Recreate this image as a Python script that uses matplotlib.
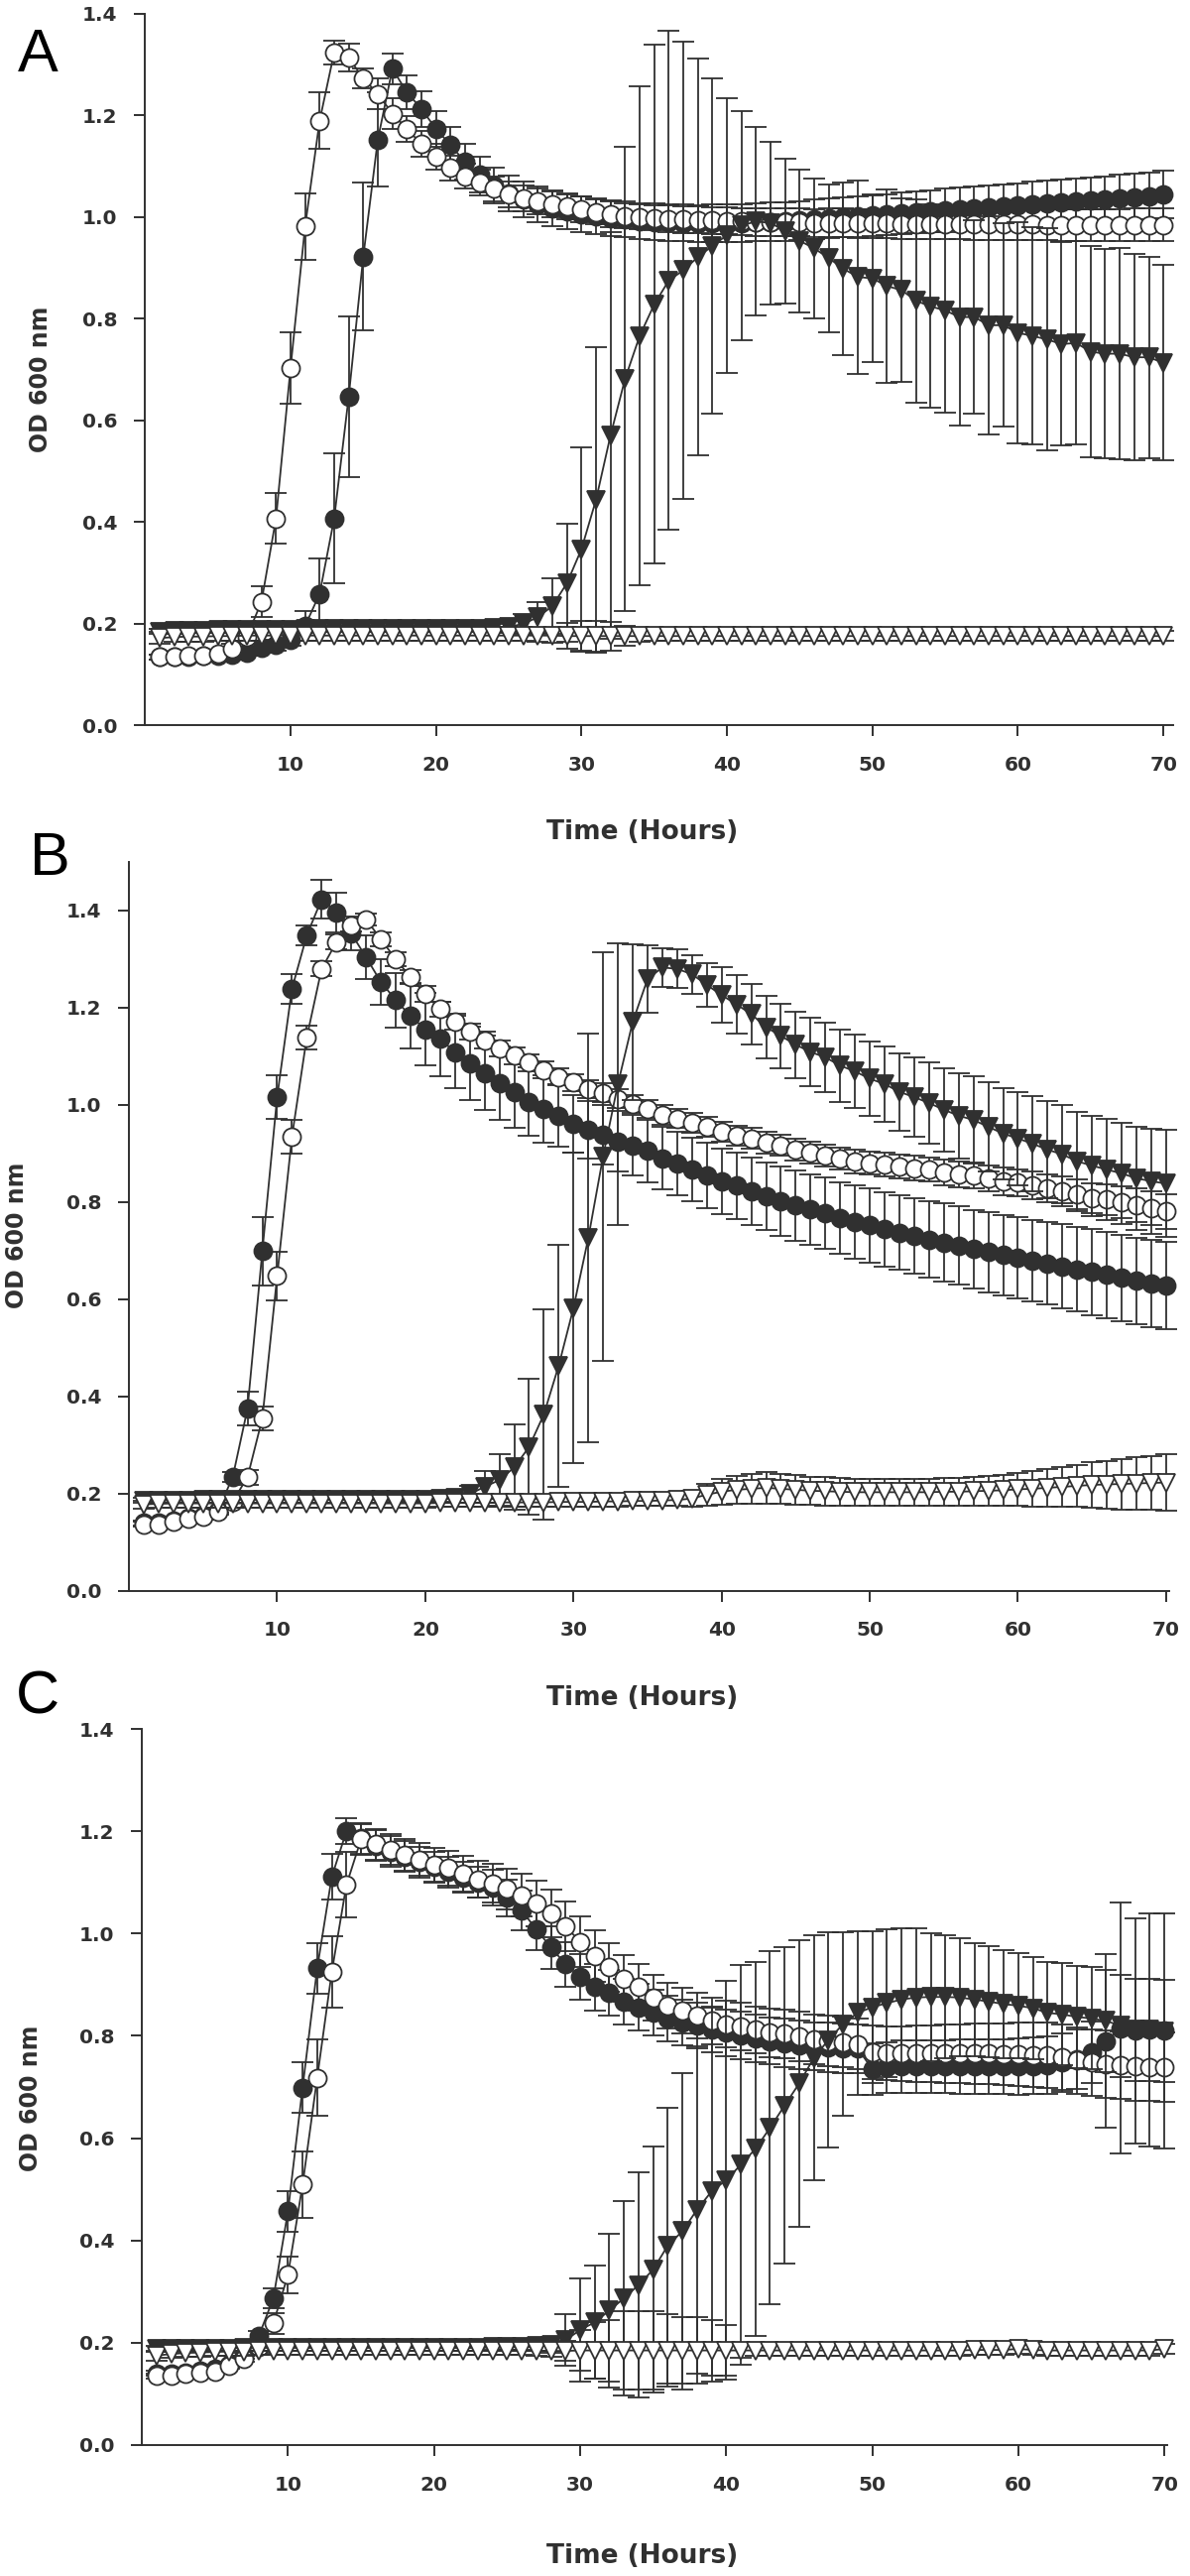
import matplotlib
matplotlib.use("Agg")
import matplotlib.pyplot as plt

hours = list(range(1, 71))

# ---------------- Panel A ----------------
A_filled = [0.135, 0.135, 0.136, 0.137, 0.138, 0.139, 0.143, 0.153, 0.158, 0.169,
            0.196, 0.259, 0.407, 0.647, 0.922, 1.152, 1.291, 1.245, 1.212, 1.173,
            1.141, 1.108, 1.083, 1.062, 1.046, 1.034, 1.025, 1.017, 1.011, 1.006,
            1.002, 0.998, 0.995, 0.992, 0.990, 0.989, 0.988, 0.987, 0.987, 0.987,
            0.988, 0.989, 0.990, 0.991, 0.993, 0.995, 0.997, 0.999, 1.001, 1.003,
            1.005, 1.007, 1.009, 1.011, 1.013, 1.015, 1.017, 1.019, 1.021, 1.023,
            1.025, 1.027, 1.029, 1.031, 1.033, 1.035, 1.037, 1.039, 1.041, 1.044]
A_filled_err = [0.005, 0.005, 0.005, 0.005, 0.005, 0.005, 0.006, 0.008, 0.010, 0.012,
                0.030, 0.070, 0.128, 0.158, 0.145, 0.093, 0.030, 0.034, 0.035, 0.035,
                0.035, 0.035, 0.035, 0.035, 0.035, 0.035, 0.035, 0.035, 0.035, 0.035,
                0.035, 0.035, 0.035, 0.035, 0.036, 0.036, 0.036, 0.036, 0.037, 0.037,
                0.037, 0.037, 0.038, 0.038, 0.038, 0.039, 0.039, 0.039, 0.040, 0.040,
                0.040, 0.041, 0.041, 0.041, 0.042, 0.042, 0.042, 0.043, 0.043, 0.043,
                0.044, 0.044, 0.044, 0.045, 0.045, 0.045, 0.046, 0.046, 0.046, 0.047]
A_open = [0.135, 0.135, 0.137, 0.138, 0.142, 0.152, 0.175, 0.243, 0.407, 0.703,
          0.981, 1.189, 1.323, 1.313, 1.272, 1.242, 1.203, 1.173, 1.143, 1.118,
          1.096, 1.080, 1.067, 1.055, 1.044, 1.036, 1.030, 1.025, 1.020, 1.015,
          1.010, 1.005, 1.002, 1.000, 0.998, 0.996, 0.995, 0.994, 0.993, 0.992,
          0.991, 0.990, 0.990, 0.989, 0.989, 0.988, 0.988, 0.988, 0.987, 0.987,
          0.987, 0.986, 0.986, 0.986, 0.986, 0.985, 0.985, 0.985, 0.985, 0.985,
          0.985, 0.984, 0.984, 0.984, 0.984, 0.984, 0.984, 0.984, 0.984, 0.984]
A_open_err = [0.005, 0.005, 0.005, 0.005, 0.005, 0.008, 0.010, 0.030, 0.050, 0.070,
              0.066, 0.056, 0.023, 0.027, 0.020, 0.030, 0.030, 0.025, 0.025, 0.025,
              0.025, 0.025, 0.025, 0.025, 0.025, 0.025, 0.025, 0.025, 0.025, 0.025,
              0.025, 0.025, 0.025, 0.025, 0.025, 0.026, 0.026, 0.026, 0.026, 0.026,
              0.026, 0.027, 0.027, 0.027, 0.027, 0.027, 0.028, 0.028, 0.028, 0.028,
              0.028, 0.029, 0.029, 0.029, 0.029, 0.029, 0.030, 0.030, 0.030, 0.030,
              0.030, 0.030, 0.031, 0.031, 0.031, 0.031, 0.031, 0.032, 0.032, 0.032]
A_tri = [0.185, 0.186, 0.187, 0.187, 0.188, 0.188, 0.188, 0.189, 0.189, 0.189,
         0.190, 0.190, 0.190, 0.190, 0.190, 0.190, 0.190, 0.190, 0.190, 0.190,
         0.190, 0.190, 0.191, 0.192, 0.194, 0.200, 0.213, 0.235, 0.280, 0.347,
         0.444, 0.571, 0.682, 0.766, 0.828, 0.875, 0.895, 0.921, 0.943, 0.964,
         0.983, 0.991, 0.988, 0.972, 0.953, 0.938, 0.919, 0.898, 0.882, 0.879,
         0.864, 0.856, 0.835, 0.824, 0.816, 0.803, 0.803, 0.787, 0.787, 0.772,
         0.766, 0.759, 0.750, 0.752, 0.735, 0.731, 0.731, 0.724, 0.724, 0.713]
A_tri_err = [0.005, 0.005, 0.005, 0.005, 0.005, 0.005, 0.005, 0.005, 0.005, 0.005,
             0.005, 0.005, 0.005, 0.005, 0.005, 0.005, 0.005, 0.005, 0.005, 0.005,
             0.005, 0.005, 0.006, 0.008, 0.012, 0.020, 0.030, 0.055, 0.116, 0.200,
             0.300, 0.400, 0.456, 0.490, 0.510, 0.490, 0.450, 0.390, 0.330, 0.270,
             0.225, 0.185, 0.160, 0.143, 0.140, 0.138, 0.145, 0.170, 0.190, 0.165,
             0.190, 0.180, 0.200, 0.200, 0.200, 0.214, 0.190, 0.214, 0.200, 0.217,
             0.214, 0.218, 0.200, 0.200, 0.207, 0.206, 0.208, 0.203, 0.198, 0.192]
A_otri = [0.172, 0.174, 0.175, 0.175, 0.176, 0.176, 0.177, 0.177, 0.177, 0.177,
          0.177, 0.177, 0.177, 0.177, 0.177, 0.177, 0.177, 0.177, 0.177, 0.177,
          0.177, 0.177, 0.177, 0.177, 0.177, 0.177, 0.177, 0.177, 0.176, 0.176,
          0.176, 0.176, 0.176, 0.176, 0.176, 0.176, 0.176, 0.176, 0.176, 0.176,
          0.176, 0.176, 0.176, 0.176, 0.176, 0.176, 0.176, 0.176, 0.176, 0.176,
          0.176, 0.176, 0.176, 0.176, 0.176, 0.176, 0.176, 0.176, 0.176, 0.176,
          0.176, 0.176, 0.176, 0.176, 0.176, 0.176, 0.176, 0.176, 0.176, 0.176]
A_otri_err = [0.012, 0.010, 0.010, 0.010, 0.010, 0.010, 0.010, 0.010, 0.010, 0.010,
              0.010, 0.010, 0.010, 0.010, 0.010, 0.010, 0.010, 0.010, 0.010, 0.010,
              0.010, 0.010, 0.010, 0.010, 0.010, 0.010, 0.012, 0.015, 0.025, 0.030,
              0.030, 0.028, 0.020, 0.012, 0.010, 0.010, 0.010, 0.010, 0.010, 0.010,
              0.010, 0.010, 0.010, 0.010, 0.010, 0.010, 0.010, 0.010, 0.010, 0.010,
              0.010, 0.010, 0.010, 0.010, 0.010, 0.010, 0.010, 0.010, 0.010, 0.010,
              0.010, 0.010, 0.010, 0.010, 0.010, 0.010, 0.010, 0.010, 0.010, 0.010]

# ---------------- Panel B ----------------
B_filled = [0.140, 0.140, 0.145, 0.150, 0.155, 0.165, 0.234, 0.375, 0.699, 1.017,
            1.239, 1.349, 1.423, 1.396, 1.353, 1.304, 1.253, 1.216, 1.183, 1.156,
            1.136, 1.109, 1.086, 1.066, 1.045, 1.027, 1.007, 0.992, 0.978, 0.961,
            0.949, 0.939, 0.925, 0.917, 0.905, 0.890, 0.879, 0.867, 0.855, 0.843,
            0.834, 0.822, 0.812, 0.802, 0.793, 0.785, 0.777, 0.767, 0.759, 0.752,
            0.744, 0.737, 0.730, 0.723, 0.717, 0.711, 0.703, 0.697, 0.691, 0.685,
            0.679, 0.674, 0.668, 0.662, 0.656, 0.650, 0.644, 0.638, 0.633, 0.629]
B_filled_err = [0.005, 0.005, 0.005, 0.005, 0.005, 0.005, 0.010, 0.035, 0.070, 0.045,
                0.030, 0.020, 0.040, 0.040, 0.035, 0.045, 0.046, 0.056, 0.067, 0.075,
                0.076, 0.075, 0.076, 0.076, 0.076, 0.075, 0.070, 0.070, 0.064, 0.060,
                0.060, 0.061, 0.062, 0.063, 0.064, 0.064, 0.065, 0.066, 0.067, 0.068,
                0.068, 0.069, 0.070, 0.071, 0.072, 0.072, 0.073, 0.074, 0.075, 0.076,
                0.076, 0.077, 0.078, 0.079, 0.080, 0.080, 0.081, 0.082, 0.083, 0.084,
                0.084, 0.085, 0.086, 0.087, 0.088, 0.088, 0.089, 0.089, 0.090, 0.090]
B_open = [0.137, 0.137, 0.143, 0.149, 0.152, 0.162, 0.184, 0.234, 0.355, 0.648,
          0.935, 1.139, 1.280, 1.335, 1.370, 1.382, 1.341, 1.300, 1.263, 1.228,
          1.197, 1.171, 1.151, 1.133, 1.116, 1.101, 1.087, 1.072, 1.058, 1.046,
          1.033, 1.025, 1.013, 1.002, 0.992, 0.980, 0.972, 0.963, 0.955, 0.945,
          0.937, 0.931, 0.922, 0.917, 0.908, 0.902, 0.896, 0.890, 0.884, 0.880,
          0.877, 0.873, 0.870, 0.867, 0.861, 0.857, 0.855, 0.849, 0.843, 0.840,
          0.835, 0.829, 0.822, 0.816, 0.808, 0.805, 0.800, 0.794, 0.788, 0.781]
B_open_err = [0.005, 0.005, 0.005, 0.005, 0.005, 0.005, 0.010, 0.015, 0.025, 0.050,
              0.035, 0.025, 0.015, 0.015, 0.012, 0.012, 0.015, 0.015, 0.015, 0.016,
              0.016, 0.016, 0.016, 0.017, 0.017, 0.017, 0.017, 0.018, 0.018, 0.018,
              0.018, 0.019, 0.019, 0.019, 0.019, 0.020, 0.020, 0.020, 0.020, 0.021,
              0.021, 0.021, 0.022, 0.022, 0.022, 0.023, 0.023, 0.023, 0.024, 0.024,
              0.024, 0.025, 0.025, 0.025, 0.026, 0.026, 0.027, 0.027, 0.028, 0.028,
              0.029, 0.029, 0.030, 0.031, 0.031, 0.032, 0.033, 0.034, 0.035, 0.036]
B_tri = [0.186, 0.186, 0.186, 0.186, 0.187, 0.187, 0.187, 0.187, 0.187, 0.187,
         0.187, 0.187, 0.187, 0.187, 0.187, 0.187, 0.187, 0.188, 0.188, 0.188,
         0.189, 0.191, 0.199, 0.214, 0.228, 0.254, 0.296, 0.363, 0.463, 0.582,
         0.726, 0.894, 1.043, 1.171, 1.259, 1.283, 1.280, 1.269, 1.247, 1.226,
         1.207, 1.187, 1.160, 1.142, 1.124, 1.109, 1.098, 1.081, 1.069, 1.054,
         1.043, 1.027, 1.016, 1.004, 0.990, 0.978, 0.969, 0.955, 0.941, 0.931,
         0.920, 0.908, 0.898, 0.884, 0.875, 0.867, 0.859, 0.849, 0.843, 0.838]
B_tri_err = [0.005, 0.005, 0.005, 0.005, 0.005, 0.005, 0.005, 0.005, 0.005, 0.005,
             0.005, 0.005, 0.005, 0.005, 0.005, 0.005, 0.005, 0.005, 0.005, 0.005,
             0.006, 0.010, 0.018, 0.032, 0.053, 0.088, 0.140, 0.217, 0.250, 0.320,
             0.420, 0.420, 0.290, 0.160, 0.070, 0.040, 0.040, 0.040, 0.045, 0.057,
             0.060, 0.062, 0.064, 0.066, 0.068, 0.070, 0.072, 0.074, 0.075, 0.076,
             0.078, 0.080, 0.082, 0.084, 0.086, 0.088, 0.090, 0.092, 0.094, 0.096,
             0.098, 0.100, 0.101, 0.102, 0.103, 0.104, 0.105, 0.106, 0.108, 0.110]
B_otri = [0.178, 0.179, 0.180, 0.180, 0.180, 0.180, 0.180, 0.180, 0.180, 0.180,
          0.180, 0.180, 0.180, 0.180, 0.180, 0.180, 0.180, 0.180, 0.180, 0.180,
          0.181, 0.181, 0.181, 0.181, 0.182, 0.182, 0.182, 0.182, 0.183, 0.183,
          0.183, 0.184, 0.184, 0.185, 0.185, 0.186, 0.187, 0.190, 0.198, 0.204,
          0.208, 0.210, 0.212, 0.210, 0.208, 0.206, 0.205, 0.204, 0.203, 0.203,
          0.203, 0.203, 0.203, 0.203, 0.204, 0.204, 0.205, 0.206, 0.207, 0.209,
          0.210, 0.212, 0.214, 0.216, 0.218, 0.219, 0.220, 0.221, 0.222, 0.223]
B_otri_err = [0.008, 0.008, 0.008, 0.008, 0.008, 0.008, 0.008, 0.008, 0.008, 0.008,
              0.008, 0.008, 0.008, 0.008, 0.008, 0.008, 0.008, 0.008, 0.008, 0.008,
              0.008, 0.008, 0.008, 0.008, 0.008, 0.008, 0.008, 0.008, 0.010, 0.010,
              0.010, 0.010, 0.010, 0.010, 0.010, 0.010, 0.012, 0.016, 0.022, 0.026,
              0.028, 0.030, 0.032, 0.031, 0.030, 0.029, 0.029, 0.028, 0.028, 0.028,
              0.028, 0.028, 0.028, 0.028, 0.029, 0.029, 0.030, 0.031, 0.032, 0.034,
              0.036, 0.038, 0.040, 0.043, 0.046, 0.049, 0.052, 0.054, 0.056, 0.058]

# ---------------- Panel C ----------------
C_filled = [0.140, 0.140, 0.142, 0.145, 0.150, 0.158, 0.175, 0.213, 0.287, 0.457,
            0.699, 0.932, 1.111, 1.200, 1.186, 1.172, 1.160, 1.150, 1.140, 1.130,
            1.120, 1.110, 1.100, 1.090, 1.070, 1.045, 1.008, 0.973, 0.940, 0.915,
            0.895, 0.884, 0.867, 0.856, 0.845, 0.834, 0.826, 0.820, 0.812, 0.806,
            0.801, 0.795, 0.790, 0.786, 0.782, 0.780, 0.778, 0.776, 0.775, 0.735,
            0.738, 0.740, 0.740, 0.740, 0.740, 0.740, 0.740, 0.740, 0.740, 0.740,
            0.741, 0.743, 0.748, 0.755, 0.768, 0.790, 0.815, 0.810, 0.812, 0.810]
C_filled_err = [0.005, 0.005, 0.005, 0.005, 0.005, 0.005, 0.006, 0.010, 0.020, 0.040,
                0.050, 0.050, 0.045, 0.025, 0.030, 0.030, 0.030, 0.030, 0.030, 0.030,
                0.030, 0.030, 0.030, 0.035, 0.036, 0.038, 0.040, 0.042, 0.044, 0.045,
                0.045, 0.045, 0.045, 0.045, 0.045, 0.045, 0.045, 0.045, 0.045, 0.045,
                0.046, 0.046, 0.046, 0.047, 0.047, 0.047, 0.048, 0.048, 0.048, 0.050,
                0.050, 0.051, 0.051, 0.052, 0.052, 0.053, 0.053, 0.054, 0.054, 0.055,
                0.055, 0.056, 0.057, 0.058, 0.060, 0.170, 0.245, 0.220, 0.228, 0.230]
C_open = [0.135, 0.135, 0.139, 0.141, 0.144, 0.155, 0.169, 0.191, 0.238, 0.333,
          0.509, 0.718, 0.925, 1.095, 1.184, 1.175, 1.164, 1.153, 1.145, 1.134,
          1.128, 1.117, 1.106, 1.098, 1.087, 1.075, 1.059, 1.039, 1.014, 0.984,
          0.956, 0.934, 0.912, 0.895, 0.875, 0.859, 0.849, 0.840, 0.829, 0.823,
          0.818, 0.812, 0.806, 0.804, 0.799, 0.793, 0.790, 0.788, 0.784, 0.768,
          0.766, 0.765, 0.765, 0.765, 0.765, 0.765, 0.765, 0.765, 0.764, 0.764,
          0.763, 0.762, 0.758, 0.752, 0.748, 0.745, 0.742, 0.740, 0.739, 0.738]
C_open_err = [0.005, 0.005, 0.005, 0.005, 0.005, 0.005, 0.006, 0.010, 0.020, 0.036,
              0.065, 0.075, 0.070, 0.064, 0.030, 0.030, 0.030, 0.031, 0.032, 0.033,
              0.034, 0.035, 0.036, 0.038, 0.040, 0.042, 0.044, 0.046, 0.048, 0.050,
              0.050, 0.048, 0.046, 0.045, 0.045, 0.045, 0.045, 0.045, 0.045, 0.045,
              0.046, 0.046, 0.047, 0.047, 0.048, 0.048, 0.049, 0.050, 0.050, 0.052,
              0.053, 0.054, 0.055, 0.056, 0.057, 0.058, 0.059, 0.060, 0.061, 0.062,
              0.063, 0.064, 0.064, 0.065, 0.065, 0.066, 0.066, 0.067, 0.067, 0.068]
C_tri = [0.188, 0.188, 0.189, 0.189, 0.189, 0.189, 0.190, 0.190, 0.190, 0.190,
         0.190, 0.190, 0.190, 0.190, 0.190, 0.190, 0.190, 0.190, 0.190, 0.190,
         0.190, 0.190, 0.190, 0.191, 0.191, 0.192, 0.193, 0.196, 0.205, 0.225,
         0.240, 0.263, 0.287, 0.313, 0.343, 0.390, 0.418, 0.460, 0.496, 0.518,
         0.548, 0.579, 0.620, 0.664, 0.707, 0.757, 0.792, 0.823, 0.845, 0.856,
         0.864, 0.871, 0.875, 0.876, 0.876, 0.875, 0.871, 0.867, 0.862, 0.859,
         0.854, 0.845, 0.842, 0.837, 0.834, 0.829, 0.820, 0.812, 0.812, 0.809]
C_tri_err = [0.005, 0.005, 0.005, 0.005, 0.005, 0.005, 0.005, 0.005, 0.005, 0.005,
             0.005, 0.005, 0.005, 0.005, 0.005, 0.005, 0.005, 0.005, 0.005, 0.005,
             0.005, 0.005, 0.005, 0.005, 0.005, 0.006, 0.008, 0.015, 0.050, 0.100,
             0.110, 0.150, 0.190, 0.220, 0.240, 0.270, 0.310, 0.320, 0.360, 0.390,
             0.390, 0.365, 0.345, 0.310, 0.280, 0.240, 0.210, 0.180, 0.160, 0.148,
             0.145, 0.140, 0.135, 0.125, 0.120, 0.115, 0.110, 0.108, 0.105, 0.103,
             0.100, 0.100, 0.100, 0.100, 0.100, 0.100, 0.100, 0.100, 0.100, 0.100]
C_otri = [0.175, 0.178, 0.180, 0.181, 0.182, 0.183, 0.183, 0.184, 0.184, 0.184,
          0.184, 0.184, 0.184, 0.184, 0.184, 0.184, 0.184, 0.184, 0.184, 0.184,
          0.184, 0.184, 0.184, 0.184, 0.184, 0.184, 0.184, 0.184, 0.184, 0.185,
          0.185, 0.185, 0.185, 0.185, 0.185, 0.185, 0.185, 0.185, 0.185, 0.185,
          0.185, 0.185, 0.185, 0.185, 0.185, 0.185, 0.185, 0.185, 0.185, 0.185,
          0.185, 0.185, 0.185, 0.185, 0.185, 0.185, 0.186, 0.186, 0.186, 0.188,
          0.186, 0.185, 0.185, 0.185, 0.185, 0.185, 0.185, 0.185, 0.185, 0.188]
C_otri_err = [0.010, 0.008, 0.008, 0.008, 0.008, 0.008, 0.008, 0.008, 0.008, 0.008,
              0.008, 0.008, 0.008, 0.008, 0.008, 0.008, 0.008, 0.008, 0.008, 0.008,
              0.008, 0.008, 0.008, 0.008, 0.008, 0.008, 0.010, 0.012, 0.020, 0.040,
              0.055, 0.060, 0.077, 0.077, 0.077, 0.070, 0.065, 0.065, 0.060, 0.050,
              0.015, 0.010, 0.010, 0.010, 0.010, 0.010, 0.010, 0.010, 0.010, 0.010,
              0.010, 0.010, 0.010, 0.010, 0.010, 0.010, 0.010, 0.010, 0.010, 0.010,
              0.010, 0.010, 0.010, 0.010, 0.010, 0.010, 0.010, 0.010, 0.010, 0.010]

y_ticks = [0.0, 0.2, 0.4, 0.6, 0.8, 1.0, 1.2, 1.4]
x_ticks = [10, 20, 30, 40, 50, 60, 70]
panel_labels = ["A", "B", "C"]
x_label = "Time (Hours)"
y_label = "OD 600 nm"

DARK = "#303030"
W, H = 1200, 2597

fig = plt.figure(figsize=(W / 100, H / 100), dpi=100)

panels = [
    dict(rect=[0.1219, 0.71833, 0.8643, 0.27647], xmax=70.7, ymax=1.4,
         data=[(A_filled, A_filled_err), (A_open, A_open_err), (A_tri, A_tri_err), (A_otri, A_otri_err)],
         letter=(38, 57), ylab=(41, 382), xlab=(648, 839)),
    dict(rect=[0.1084, 0.38244, 0.874, 0.28294], xmax=70.2, ymax=1.5,
         data=[(B_filled, B_filled_err), (B_open, B_open_err), (B_tri, B_tri_err), (B_otri, B_otri_err)],
         letter=(50, 867), ylab=(17, 1245), xlab=(648, 1712)),
    dict(rect=[0.11925, 0.05083, 0.8617, 0.27801], xmax=70.2, ymax=1.4,
         data=[(C_filled, C_filled_err), (C_open, C_open_err), (C_tri, C_tri_err), (C_otri, C_otri_err)],
         letter=(38, 1712), ylab=(31, 2115), xlab=(648, 2577)),
]

styles = [
    dict(marker="o", mfc=DARK, ms=13),
    dict(marker="o", mfc="white", ms=13),
    dict(marker="v", mfc=DARK, ms=12.5),
    dict(marker="v", mfc="white", ms=12.5),
]

for i, p in enumerate(panels):
    ax = fig.add_axes(p["rect"])
    for k, ((vals, errs), st) in enumerate(zip(p["data"], styles)):
        z = 3 + k
        eb = ax.errorbar(hours, vals, yerr=errs, fmt="none", ecolor=DARK,
                         elinewidth=1.3, capsize=7.8, capthick=1.3, zorder=z)
        for art in eb.get_children():
            art.set_clip_on(False)
        ax.plot(hours, vals, color=DARK, lw=1.3, marker=st["marker"], ms=st["ms"],
                mfc=st["mfc"], mec=DARK, mew=1.3, zorder=z + 0.5, clip_on=False)
    ax.set_xlim(0, p["xmax"])
    ax.set_ylim(0, p["ymax"])
    ax.set_xticks(x_ticks)
    ax.set_xticklabels([str(v) for v in x_ticks])
    ax.set_yticks(y_ticks)
    ax.set_yticklabels(["%.1f" % v for v in y_ticks])
    for s in ["top", "right"]:
        ax.spines[s].set_visible(False)
    for s in ["left", "bottom"]:
        ax.spines[s].set_color(DARK)
        ax.spines[s].set_linewidth(1.4)
    ax.tick_params(axis="both", direction="out", length=8, width=1.4, color=DARK,
                   labelcolor=DARK, labelsize=14.5)
    ax.tick_params(axis="y", pad=12)
    ax.tick_params(axis="x", pad=14)
    for lab in ax.get_xticklabels() + ax.get_yticklabels():
        lab.set_fontweight("bold")
        lab.set_family("DejaVu Sans")

    lx, ly = p["letter"]
    fig.text(lx / W, 1 - ly / H, panel_labels[i], ha="center", va="center",
             fontsize=44, family="Liberation Sans", color="black")
    yx, yy = p["ylab"]
    fig.text(yx / W, 1 - yy / H, y_label, rotation=90, ha="center", va="center",
             fontsize=17, fontweight="bold", family="DejaVu Sans", color=DARK)
    tx, ty = p["xlab"]
    fig.text(tx / W, 1 - ty / H, x_label, ha="center", va="center",
             fontsize=19, fontweight="bold", family="DejaVu Sans", color=DARK)

fig.savefig("out.png", dpi=100)
